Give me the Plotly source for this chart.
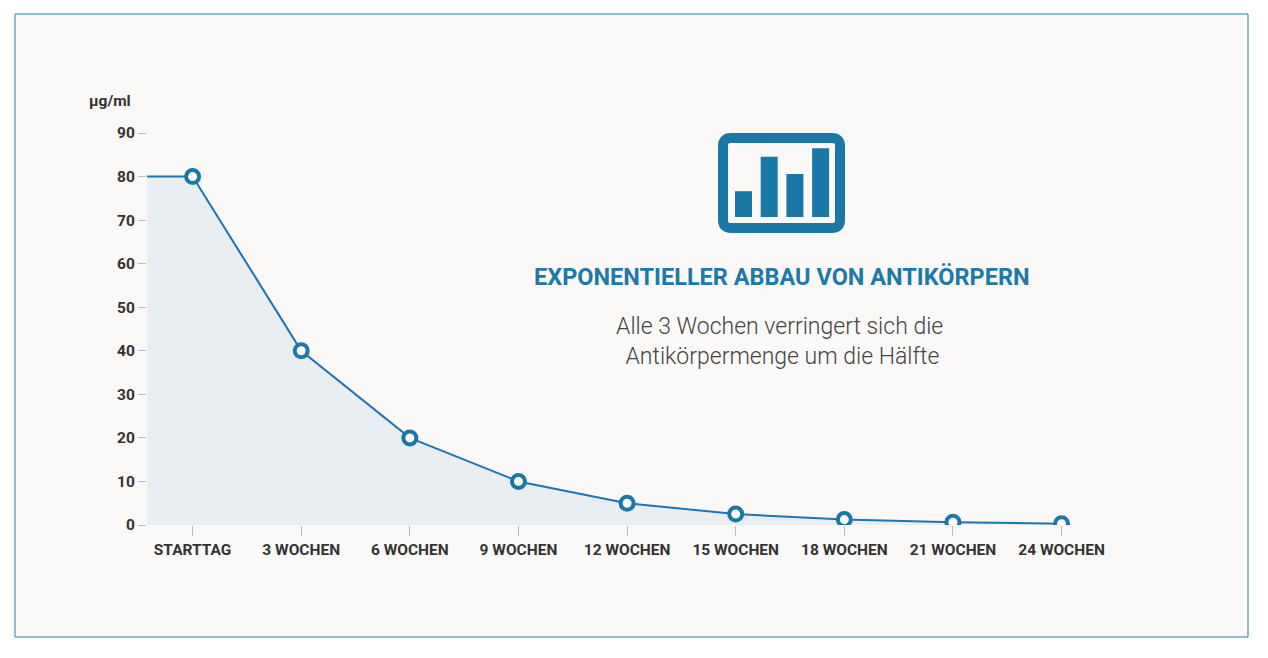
import plotly.graph_objects as go

labels = ["STARTTAG", "3 WOCHEN", "6 WOCHEN", "9 WOCHEN", "12 WOCHEN",
          "15 WOCHEN", "18 WOCHEN", "21 WOCHEN", "24 WOCHEN"]
antikoerper = [80, 40, 20, 10, 5, 2.5, 1.25, 0.625, 0.3]
y_ticks = [0, 10, 20, 30, 40, 50, 60, 70, 80, 90]
icon_bars = [3, 7, 5, 8]

# the page body has an 8px margin, so the figure is shrunk and shifted
OFF = 8
W, H = 1268 - 2 * OFF, 658 - 2 * OFF
L, R, T, B = 147, 1105, 133, 525
x_range = [-0.42, 8.4]

blue = "#1f74b4"
teal = "#1a78a6"

def px(x, y):
    return (x - L) / (R - L), (B - y) / (B - T)

idx = list(range(len(labels)))

fig = go.Figure()
fig.add_trace(go.Scatter(
    x=[x_range[0]] + idx, y=[antikoerper[0]] + antikoerper,
    mode="lines", fill="tozeroy", fillcolor="#e9eef3",
    line=dict(color=blue, width=2), hoverinfo="skip"))
fig.add_trace(go.Scatter(
    x=idx, y=antikoerper, mode="markers",
    marker=dict(size=13, color="white", line=dict(color=teal, width=4))))

shapes = []
# panel background + border
x0, y0 = px(15, 14)
x1, y1 = px(1248, 637)
shapes.append(dict(type="rect", xref="paper", yref="paper", x0=x0, y0=y1, x1=x1, y1=y0,
                   fillcolor="#faf9f7", line=dict(color="#2b8096", width=1), layer="below"))

# icon frame (rounded rect)
def rounded(xa, ya, xb, yb, r):
    pts = [("M", xa + r, ya), ("L", xb - r, ya), ("Q", xb, ya, xb, ya + r),
           ("L", xb, yb - r), ("Q", xb, yb, xb - r, yb), ("L", xa + r, yb),
           ("Q", xa, yb, xa, yb - r), ("L", xa, ya + r), ("Q", xa, ya, xa + r, ya)]
    s = ""
    for p in pts:
        cmd, coords = p[0], p[1:]
        conv = []
        for i in range(0, len(coords), 2):
            cx, cy = px(coords[i], coords[i + 1])
            conv.append(f"{cx:.5f},{cy:.5f}")
        s += cmd + " " + " ".join(conv) + " "
    return s + "Z"

shapes.append(dict(type="path", xref="paper", yref="paper",
                   path=rounded(723, 138, 840, 228, 8),
                   line=dict(color=teal, width=10)))

# icon bars
bar_w, gap, base, unit = 17, 8.7, 217, 8.6
for i, h in enumerate(icon_bars):
    bx = 735 + i * (bar_w + gap)
    ax0, ay0 = px(bx, base)
    ax1, ay1 = px(bx + bar_w, base - h * unit)
    shapes.append(dict(type="rect", xref="paper", yref="paper", x0=ax0, y0=ay0, x1=ax1, y1=ay1,
                       fillcolor=teal, line=dict(width=0)))

ann = []
ux, uy = px(110, 101)
ann.append(dict(text="µg/ml", xref="paper", yref="paper", x=ux, y=uy, showarrow=False,
                xanchor="center", yanchor="middle",
                font=dict(family="Roboto", size=15.5, color="#333", weight="bold")))
tx, ty = px(782, 277)
ann.append(dict(text="EXPONENTIELLER ABBAU VON ANTIKÖRPERN", xref="paper", yref="paper",
                x=tx, y=ty, showarrow=False, xanchor="center", yanchor="middle",
                font=dict(family="Roboto", size=23.5, color="#1e78a8", weight="bold")))
sx, sy = px(779, 341)
ann.append(dict(text="Alle 3 Wochen verringert sich die<br> Antikörpermenge um die Hälfte",
                xref="paper", yref="paper", x=sx, y=sy, showarrow=False, align="center",
                xanchor="center", yanchor="middle",
                font=dict(family="Roboto", size=23, color="#444", weight=300)))

tick_font = dict(family="Roboto", size=15.5, color="#333", weight="bold")
fig.update_layout(
    width=W, height=H,
    margin=dict(l=L - OFF, r=W + OFF - R, t=T - OFF, b=H + OFF - B),
    paper_bgcolor="white", plot_bgcolor="rgba(0,0,0,0)",
    showlegend=False, shapes=shapes, annotations=ann,
    font=dict(family="Roboto", size=14, color="#333"),
)
fig.update_xaxes(range=x_range, tickvals=idx, ticktext=labels, showgrid=False,
                 zeroline=False, showline=False, ticks="outside", ticklen=10,
                 tickcolor="#bbb", tickfont=tick_font)
fig.update_yaxes(range=[0, 90], tickvals=y_ticks, showgrid=False, zeroline=False,
                 showline=False, ticks="outside", ticklen=8, tickcolor="#bbb",
                 tickfont=tick_font)

fig.write_html("out.html")
